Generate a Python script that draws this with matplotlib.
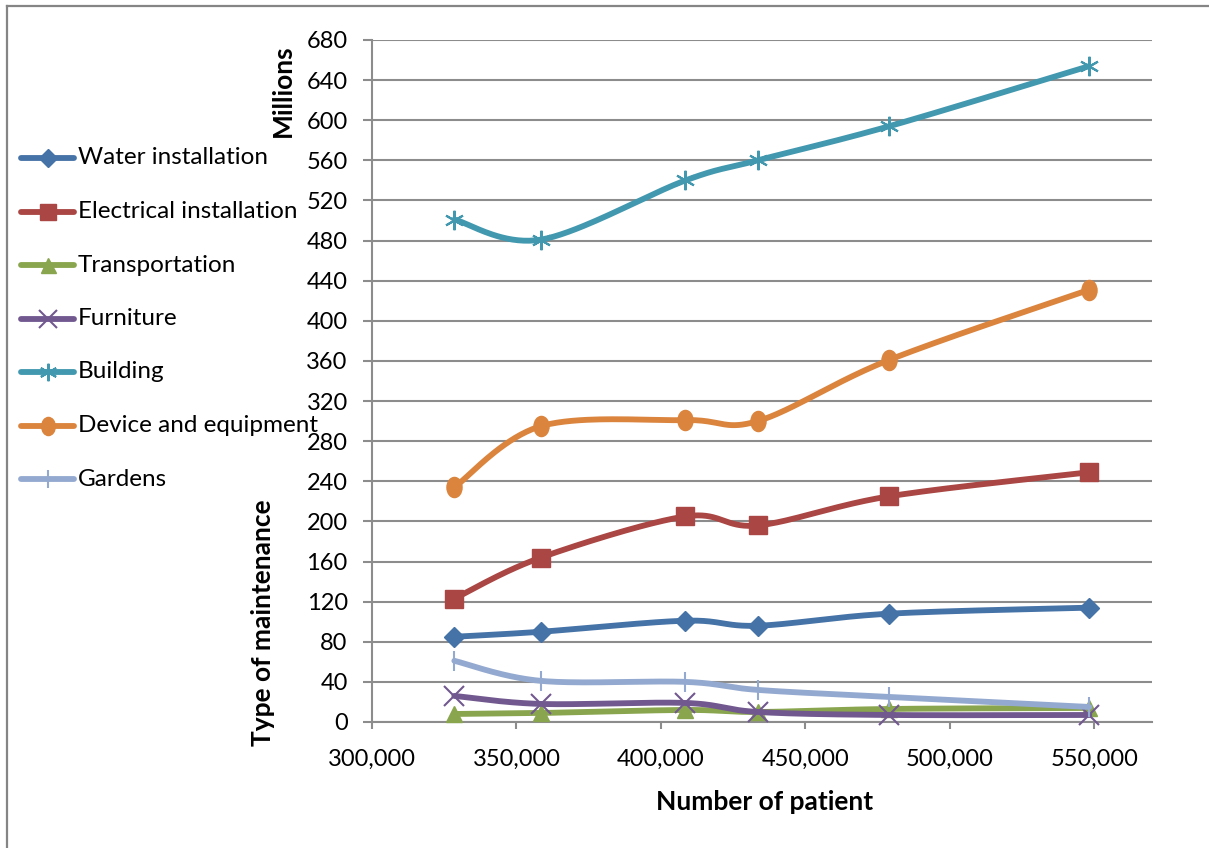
import numpy as np
import matplotlib
matplotlib.use("Agg")
import matplotlib.pyplot as plt
from matplotlib.lines import Line2D
from matplotlib.path import Path
from matplotlib.transforms import Affine2D

plt.rcParams['font.family'] = ['Lato', 'DejaVu Sans']

# ---- data -------------------------------------------------------------
patients = [328500, 358500, 408500, 433500, 479000, 548300]

water_installation = [85, 90, 101, 96, 108, 114]
electrical_installation = [123, 164, 205, 196, 225, 249]
transportation = [8, 9, 12, 10, 13, 14]
furniture = [26, 18, 19, 10, 7, 7]
building = [501, 481, 540, 560, 594, 654]
device_and_equipment = [234, 295, 301, 300, 361, 431]
gardens = [61, 41, 40, 32, 25, 15]

series_names = ["Water installation", "Electrical installation", "Transportation",
                "Furniture", "Building", "Device and equipment", "Gardens"]
series_values = [water_installation, electrical_installation, transportation,
                 furniture, building, device_and_equipment, gardens]

x_ticks = [300000, 350000, 400000, 450000, 500000, 550000]
y_ticks = list(range(0, 681, 40))

# ---- styles -----------------------------------------------------------
ellipse = Path.unit_circle().transformed(Affine2D().scale(0.75, 1.0))
colors = ["#4572A7", "#AA4643", "#89A54E", "#71588F", "#4198AF", "#DB843D", "#93A9CF"]
markers = ["D", "s", "^", "x", (6, 2, 0), ellipse, "|"]
msizes = [10.2, 13, 12, 14, 14, 14.5, 14]
medges = [1, 1, 1, 1.5, 1.5, 1, 1.5]
GRID = "#8C8C8C"
LW = 4.2
W, H = 1209, 848
XMIN, XMAX = 300000, 570000
YMIN, YMAX = 0, 680
AX_L, AX_R, AX_T, AX_B = 372, 1152, 40, 722

fig = plt.figure(figsize=(W / 100, H / 100), dpi=100)
ax = fig.add_axes([AX_L / W, 1 - AX_B / H, (AX_R - AX_L) / W, (AX_B - AX_T) / H])
ax.set_xlim(XMIN, XMAX)
ax.set_ylim(YMIN, YMAX)


def smooth(xs, ys, n=40):
    """Bezier smoothing through the points, computed in pixel-like space."""
    sx = (AX_R - AX_L) / (XMAX - XMIN)
    sy = (AX_B - AX_T) / (YMAX - YMIN)
    pts = np.column_stack([(np.asarray(xs, float) - XMIN) * sx, np.asarray(ys, float) * sy])
    ext = np.vstack([pts[0], pts, pts[-1]])
    t = np.linspace(0, 1, n)[:, None]
    out = []
    for i in range(len(pts) - 1):
        p0, p3 = pts[i], pts[i + 1]
        c1 = p0 + (ext[i + 2] - ext[i]) / 6.0
        c2 = p3 - (ext[i + 3] - ext[i + 1]) / 6.0
        seg = ((1 - t) ** 3) * p0 + 3 * ((1 - t) ** 2) * t * c1 + 3 * (1 - t) * t ** 2 * c2 + t ** 3 * p3
        out.append(seg if i == 0 else seg[1:])
    out = np.vstack(out)
    return out[:, 0] / sx + XMIN, out[:, 1] / sy


z = 3
for name, vals, c, m, ms, me in zip(series_names, series_values, colors, markers, msizes, medges):
    cx, cy = smooth(patients, vals)
    ax.plot(cx, cy, color=c, lw=LW, solid_capstyle="round", zorder=z, clip_on=False)
    ax.plot(patients, vals, linestyle="none", marker=m, markersize=ms, color=c,
            markeredgecolor=c, markeredgewidth=me, zorder=z + 0.5, clip_on=False)
    z += 1

# ---- axes styling -------------------------------------------------------
ax.set_yticks(y_ticks)
ax.set_xticks(x_ticks)
ax.set_xticklabels([f"{v:,}" for v in x_ticks])
ax.yaxis.grid(True, color=GRID, lw=1.5)
ax.set_axisbelow(True)
for s in ["top", "right"]:
    ax.spines[s].set_visible(False)
for s in ["left", "bottom"]:
    ax.spines[s].set_color(GRID)
    ax.spines[s].set_linewidth(1.5)
ax.tick_params(axis="y", length=6.5, width=1.5, color=GRID, pad=11, labelsize=17,
               labelcolor="black")
ax.tick_params(axis="x", length=5, width=1.5, color=GRID, pad=14, labelsize=17,
               labelcolor="black")

fig.text(765 / W, 1 - 802 / H, "Number of patient", ha="center", va="center",
         fontsize=19, fontweight="bold")
fig.text(283 / W, 1 - 91 / H, "Millions", ha="center", va="center", rotation=90,
         fontsize=19, fontweight="bold")
fig.text(263 / W, 1 - 623 / H, "Type of maintenance", ha="center", va="center",
         rotation=90, fontsize=19, fontweight="bold")

# ---- legend -------------------------------------------------------------
for i, (name, c, m, ms, me) in enumerate(zip(series_names, colors, markers, msizes, medges)):
    yp = 1 - (158 + i * 53.5) / H
    fig.add_artist(Line2D([21 / W, 74 / W], [yp, yp], color=c, lw=LW,
                          solid_capstyle="round", transform=fig.transFigure))
    fig.add_artist(Line2D([47.5 / W], [yp], color=c, marker=m, markersize=ms * 0.9,
                          markeredgecolor=c, markeredgewidth=me, linestyle="none",
                          transform=fig.transFigure))
    fig.text(78 / W, yp, name, ha="left", va="center", fontsize=17.5)

# ---- outer frame (top and left edges) -----------------------------------
fig.add_artist(Line2D([6.5 / W, 1], [1 - 5.5 / H, 1 - 5.5 / H], color="#858585", lw=1.6,
                      transform=fig.transFigure))
fig.add_artist(Line2D([6.5 / W, 6.5 / W], [0, 1 - 5.5 / H], color="#858585", lw=1.6,
                      transform=fig.transFigure))

fig.savefig("out.png", dpi=100)
